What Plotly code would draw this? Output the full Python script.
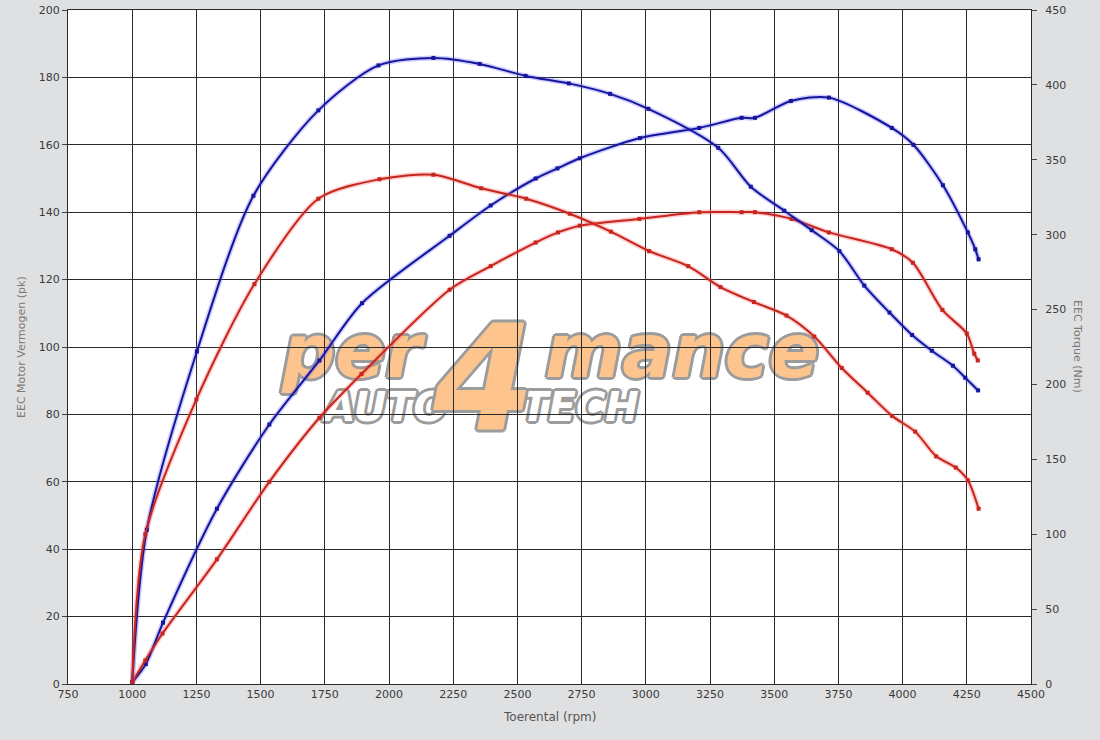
import plotly.graph_objects as go

# ---- data ----
rpm_torque_tuned = [1000, 1057, 1252, 1472, 1725, 1959, 2173, 2353, 2532, 2700, 2861, 3010,
                    3282, 3409, 3539, 3646, 3754, 3851, 3949, 4037, 4114, 4196, 4244, 4294]
torque_tuned = [1, 103, 222, 326, 383, 413, 418, 414, 406, 401, 394, 384,
                358, 332, 316, 303, 289, 266, 248, 233, 222.5, 212.5, 204.5, 196]

rpm_torque_stock = [1000, 1051, 1250, 1476, 1725, 1963, 2173, 2359, 2534, 2704, 2864, 3013,
                    3165, 3291, 3421, 3548, 3656, 3763, 3864, 3959, 4049, 4131, 4207, 4254, 4296]
torque_stock = [1, 100, 190, 267, 324, 337, 340, 331, 324, 314, 302, 289,
                279, 265, 255, 246, 232, 211, 194.5, 179, 168.5, 152, 144.5, 136, 117]

rpm_power_tuned = [1000, 1053, 1120, 1330, 1534, 1729, 1895, 2236, 2396, 2571, 2656, 2743,
                   2977, 3208, 3373, 3425, 3565, 3713, 3958, 4042, 4157, 4254, 4283, 4296]
power_tuned = [0.5, 5.9, 18.2, 52, 77, 96, 113, 133, 142, 150, 153, 156,
               162, 165, 168, 168, 173, 174, 165, 160, 148, 134, 129, 126]

rpm_power_stock = [1000, 1051, 1118, 1330, 1534, 1729, 1893, 2236, 2396, 2571, 2658, 2743,
                   2975, 3208, 3373, 3425, 3568, 3713, 3958, 4040, 4155, 4250, 4279, 4293]
power_stock = [0.5, 7, 15, 37, 60, 79, 92, 117, 124, 131, 134, 136,
               138, 140, 140, 140, 138, 134, 129, 125, 111, 104, 98, 96]

x_ticks = list(range(750, 4501, 250))
y_ticks = list(range(0, 201, 20))
y2_ticks = list(range(0, 451, 50))

BLUE = "#16169a"
RED = "#c4261e"
BLUE_GLOW = "rgba(90,90,255,0.30)"
RED_GLOW = "rgba(255,90,90,0.30)"

series = [
    (rpm_power_tuned, power_tuned, "y", BLUE, BLUE_GLOW, "Vermogen tuned"),
    (rpm_power_stock, power_stock, "y", RED, RED_GLOW, "Vermogen origineel"),
    (rpm_torque_tuned, torque_tuned, "y2", BLUE, BLUE_GLOW, "Koppel tuned"),
    (rpm_torque_stock, torque_stock, "y2", RED, RED_GLOW, "Koppel origineel"),
]

fig = go.Figure()
for xs, ys, ax, col, glow, name in series:
    fig.add_trace(go.Scatter(x=xs, y=ys, yaxis=ax, mode="lines",
                             line=dict(color=glow, width=5, shape="spline", smoothing=0.8),
                             hoverinfo="skip", showlegend=False))
for xs, ys, ax, col, glow, name in series:
    fig.add_trace(go.Scatter(x=xs, y=ys, yaxis=ax, mode="lines+markers", name=name,
                             line=dict(color=col, width=2, shape="spline", smoothing=0.8),
                             marker=dict(symbol="square", size=4, color=col),
                             showlegend=False))

FONT = "DejaVu Sans"
tickfont = dict(family=FONT, size=11, color="#3a3a3a")
GRID = "#2a2a2a"

fig.update_layout(
    width=1100, height=740,
    autosize=False,
    margin=dict(l=68, r=69, t=10, b=56, autoexpand=False),
    paper_bgcolor="#dfe0e2",
    plot_bgcolor="#ffffff",
    showlegend=False,
    xaxis=dict(range=[750, 4500], tickvals=x_ticks, ticktext=[str(v) for v in x_ticks],
               showgrid=True, gridcolor=GRID, gridwidth=1, zeroline=False,
               showline=True, linecolor=GRID, linewidth=1, mirror=True,
               ticks="", tickfont=tickfont, automargin=False),
    yaxis=dict(range=[0, 200], tickvals=y_ticks, ticktext=[str(v) for v in y_ticks],
               showgrid=True, gridcolor=GRID, gridwidth=1, zeroline=False,
               showline=True, linecolor=GRID, linewidth=1, mirror=True,
               ticks="outside", ticklen=5, tickcolor="#444", tickfont=tickfont,
               automargin=False),
    yaxis2=dict(range=[0, 450], tickvals=y2_ticks, ticktext=[str(v) for v in y2_ticks],
                overlaying="y", side="right", showgrid=False, zeroline=False,
                ticks="outside", ticklen=5, tickcolor="#444", tickfont=tickfont,
                ticklabelstandoff=6, automargin=False),
)

annotations = [
    dict(text="Toerental (rpm)", xref="paper", yref="paper", x=0.5, y=-0.049,
         showarrow=False, font=dict(family=FONT, size=12, color="#555"),
         xanchor="center", yanchor="middle"),
    dict(text="EEC Motor Vermogen (pk)", xref="paper", yref="paper", x=-0.0488, y=0.5,
         textangle=-90, showarrow=False, font=dict(family=FONT, size=11, color="#7a7a7a"),
         xanchor="center", yanchor="middle"),
    dict(text="EEC Torque (Nm)", xref="paper", yref="paper", x=1.0488, y=0.5,
         textangle=90, showarrow=False, font=dict(family=FONT, size=11, color="#7a7a7a"),
         xanchor="center", yanchor="middle"),
]
fig.update_layout(annotations=annotations)

# ---- watermark logo (behind gridlines) ----
def px_to_paper(px, py):
    return (px - 68) / 963.0, (684 - py) / 674.0

OUT = "#9c9c9c"
shadow = ", ".join(f"{dx}px {dy}px 0 {OUT}" for dx, dy in
                   [(3, 0), (-3, 0), (0, 3), (0, -3), (2, 2), (-2, 2), (2, -2), (-2, -2)])

logo_parts = [
    ("per", 352, 346, 74, "#fdc48e"),
    ("mance", 682, 346, 74, "#fdc48e"),
    ("AUTO", 386, 404, 40, "#ffffff"),
    ("TECH", 580, 404, 40, "#ffffff"),
    ("4", 484, 368, 146, "#fdc48e"),
]
shapes = []
for txt, cx, cy, size, col in logo_parts:
    x0, y0 = px_to_paper(cx - 5, cy + 5)
    x1, y1 = px_to_paper(cx + 5, cy - 5)
    shapes.append(dict(type="rect", xref="paper", yref="paper", x0=x0, x1=x1, y0=y0, y1=y1,
                       layer="below", line=dict(width=0), fillcolor="rgba(0,0,0,0)",
                       label=dict(text=txt, textposition="middle center",
                                  font=dict(family=FONT, size=size, color=col,
                                            weight="bold", style="italic", shadow=shadow))))
fig.update_layout(shapes=shapes)

fig.write_html("out.html", config={"displayModeBar": False},
               post_script="document.body.style.margin='0';document.body.style.overflow='hidden';")
